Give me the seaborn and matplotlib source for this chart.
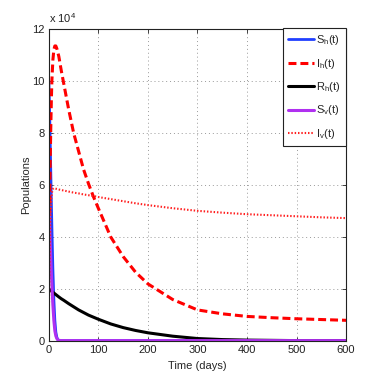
import matplotlib
matplotlib.use("Agg")
import matplotlib.pyplot as plt
import seaborn as sns
import pandas as pd

sns.set_style("ticks")
plt.rcParams['font.family'] = ['Liberation Sans', 'DejaVu Sans']
plt.rcParams['mathtext.fontset'] = 'custom'
plt.rcParams['mathtext.rm'] = 'Liberation Sans'
plt.rcParams['mathtext.it'] = 'Liberation Sans'

# time (days)
t = [0, 1, 2, 3, 4, 5, 6, 8, 10, 12, 14, 16, 18, 20, 25, 30, 40, 50, 60, 70, 80, 90,
     100, 125, 150, 175, 200, 250, 300, 350, 400, 450, 500, 550, 600]
# populations in units of 10^4
S_h = [10.0, 9.2, 8.3, 7.3, 6.3, 5.3, 4.4, 2.8, 1.6, 0.8, 0.35, 0.15, 0.06, 0.03, 0.02, 0.02,
       0.02, 0.02, 0.02, 0.02, 0.02, 0.02, 0.02, 0.02, 0.02, 0.02, 0.02, 0.02, 0.02, 0.02,
       0.02, 0.02, 0.02, 0.02, 0.02]
I_h = [3.0, 4.5, 6.0, 7.3, 8.4, 9.3, 10.0, 10.8, 11.2, 11.35, 11.35, 11.25, 11.1, 10.95,
       10.4, 9.9, 8.9, 8.0, 7.3, 6.6, 6.05, 5.55, 5.1, 4.0, 3.25, 2.65, 2.2, 1.6, 1.2, 1.05,
       0.95, 0.9, 0.86, 0.83, 0.8]
R_h = [2.0, 1.99, 1.97, 1.96, 1.94, 1.93, 1.91, 1.88, 1.85, 1.82, 1.79, 1.76, 1.73, 1.7,
       1.63, 1.57, 1.44, 1.32, 1.2, 1.1, 1.0, 0.92, 0.84, 0.66, 0.52, 0.41, 0.32, 0.19, 0.1,
       0.06, 0.04, 0.03, 0.02, 0.02, 0.02]
S_v = [5.0, 4.6, 4.1, 3.6, 3.1, 2.6, 2.2, 1.4, 0.8, 0.4, 0.2, 0.1, 0.05, 0.03, 0.02, 0.02,
       0.02, 0.02, 0.02, 0.02, 0.02, 0.02, 0.02, 0.02, 0.02, 0.02, 0.02, 0.02, 0.02, 0.02,
       0.02, 0.02, 0.02, 0.02, 0.02]
I_v = [1.1, 2.5, 3.7, 4.6, 5.2, 5.5, 5.7, 5.85, 5.88, 5.87, 5.86, 5.85, 5.84, 5.83, 5.81,
       5.79, 5.75, 5.71, 5.68, 5.64, 5.61, 5.58, 5.54, 5.46, 5.38, 5.3, 5.23, 5.11, 5.01,
       4.94, 4.88, 4.84, 4.8, 4.76, 4.73]

labels = [r'$\mathregular{S_h(t)}$', r'$\mathregular{I_h(t)}$', r'$\mathregular{R_h(t)}$',
          r'$\mathregular{S_v(t)}$', r'$\mathregular{I_v(t)}$']
xticks = [0, 100, 200, 300, 400, 500, 600]
yticks = [0, 2, 4, 6, 8, 10, 12]

df = pd.DataFrame({'t': t, 'S_h': S_h, 'I_h': I_h, 'R_h': R_h, 'S_v': S_v, 'I_v': I_v})

fig = plt.figure(figsize=(3.82, 3.82), dpi=100)
ax = fig.add_axes([0.128, 0.107, 0.778, 0.817])

styles = [
    ('S_h', '#2040ff', '-', 2.0),
    ('I_h', '#ff0000', (0, (2.6, 1.3)), 2.2),
    ('R_h', '#000000', '-', 2.2),
    ('S_v', '#b030f0', '-', 2.2),
    ('I_v', '#ff2020', (0, (0.7, 0.9)), 1.5),
]
for (col, c, ls, lw), lab in zip(styles, labels):
    sns.lineplot(data=df, x='t', y=col, ax=ax, color=c, linestyle=ls, linewidth=lw,
                 label=lab)

ax.set_xlim(0, 600)
ax.set_ylim(0, 12)
ax.set_xticks(xticks)
ax.set_yticks(yticks)
ax.tick_params(direction='in', length=3, width=0.6, labelsize=8, top=True, right=True,
               pad=3, colors='#222222', labelcolor='#222222')
ax.grid(True, linestyle=(0, (1, 3)), color='#999999', linewidth=0.7)
for s in ax.spines.values():
    s.set_linewidth(0.8)
    s.set_color('#222222')
ax.set_xlabel('Time (days)', fontsize=8, labelpad=4)
ax.set_ylabel('Populations', fontsize=8, labelpad=1)
ax.text(0.0, 1.012, r'x 10$^{\mathregular{4}}$', transform=ax.transAxes, fontsize=8,
        ha='left', va='bottom', color='#222222')

leg = ax.legend(loc='upper right', bbox_to_anchor=(1.0, 1.003), borderaxespad=0,
                fontsize=8, handlelength=2.4, handletextpad=0.2, labelspacing=0.85,
                borderpad=0.45, fancybox=False, framealpha=1, edgecolor='#222222')
leg.get_frame().set_linewidth(0.8)

fig.savefig('out.png', dpi=100)
